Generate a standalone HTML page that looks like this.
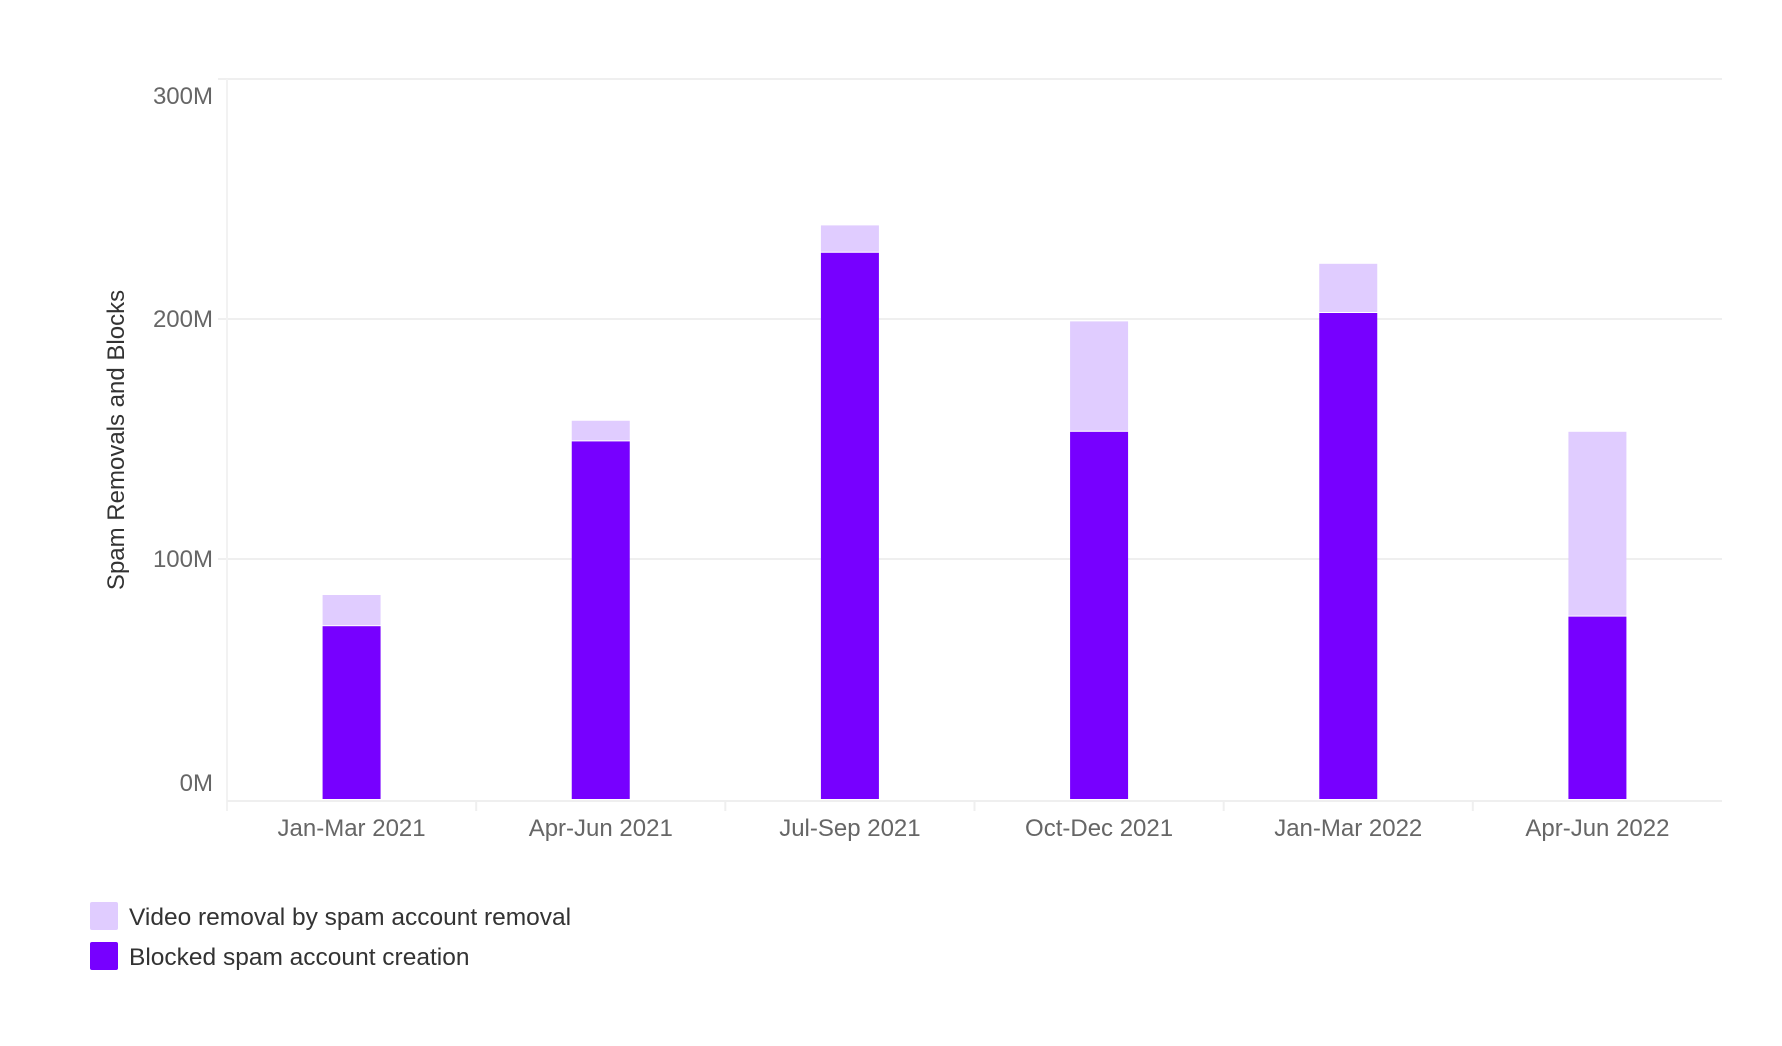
<!DOCTYPE html>
<html><head><meta charset="utf-8"><style>
html,body{margin:0;padding:0;background:#fff;}
svg{display:block;font-family:"Liberation Sans",sans-serif;}
</style></head><body>
<svg id="chart" width="1782" height="1046"></svg>
<script>
const categories=["Jan-Mar 2021","Apr-Jun 2021","Jul-Sep 2021","Oct-Dec 2021","Jan-Mar 2022","Apr-Jun 2022"];
const blockedValues=[72,149,227.6,153,202.5,76];
const videoValues=[13,8.6,11.4,46,20.5,77];
const yTicks=[0,100,200,300];
const yTickLabels=["0M","100M","200M","300M"];
const NS="http://www.w3.org/2000/svg";
const svg=document.getElementById('chart');
const L=227,R=1722,Y0=799,Y300=79;
const y=v=>Y0-(v/300)*(Y0-Y300);
const band=(R-L)/categories.length;
const xc=i=>L+band*(i+0.5);
const BW=58;
function el(t,a,p){const e=document.createElementNS(NS,t);for(const k in a)e.setAttribute(k,a[k]);(p||svg).appendChild(e);return e;}
yTicks.forEach((t,i)=>{
  if(t>0){const g=el('line',{x1:218,x2:R,y1:y(t),y2:y(t),stroke:'#efefef','stroke-width':2});
  
  }
  let ty=y(t)+8; if(i===yTicks.length-1) ty=y(t)+25; if(t===0) ty=y(t)-8;
  const tx=el('text',{x:213,y:ty,'text-anchor':'end','font-size':24,fill:'#666'});
  tx.textContent=yTickLabels[i];
  
  
});
const ya=el('line',{x1:L,x2:L,y1:Y300,y2:Y0+12,stroke:'#f2f2f2','stroke-width':2});


const xa=el('line',{x1:L,x2:R,y1:Y0+2,y2:Y0+2,stroke:'#efefef','stroke-width':2});


categories.forEach((c,i)=>{
  if(i>0){const tk=el('line',{x1:L+band*i,x2:L+band*i,y1:Y0+2,y2:Y0+12,stroke:'#efefef','stroke-width':2});
  
  }
  const b=blockedValues[i],v=videoValues[i];
  const r1=el('rect',{x:xc(i)-BW/2,y:y(b),width:BW,height:y(0)-y(b),fill:'#7700ff'});
  
  
  const r2=el('rect',{x:xc(i)-BW/2,y:y(b+v),width:BW,height:y(b)-y(b+v)-1,fill:'#e0ccff'});
  
  
  const t=el('text',{x:xc(i),y:836,'text-anchor':'middle','font-size':24,fill:'#666'});
  t.textContent=c;
  
  
});
const yt=el('text',{x:0,y:0,transform:'translate(124,440) rotate(-90)','text-anchor':'middle','font-size':24,fill:'#333'});
yt.textContent='Spam Removals and Blocks';


const leg=[["#e0ccff","Video removal by spam account removal",902],["#7700ff","Blocked spam account creation",942]];
leg.forEach(l=>{
  const s=el('rect',{x:90,y:l[2],width:28,height:28,rx:2,fill:l[0]});
  
  
  const t=el('text',{x:129,y:l[2]+23,'font-size':24.5,fill:'#333'});
  t.textContent=l[1];
  
  
});
</script>
</body></html>
